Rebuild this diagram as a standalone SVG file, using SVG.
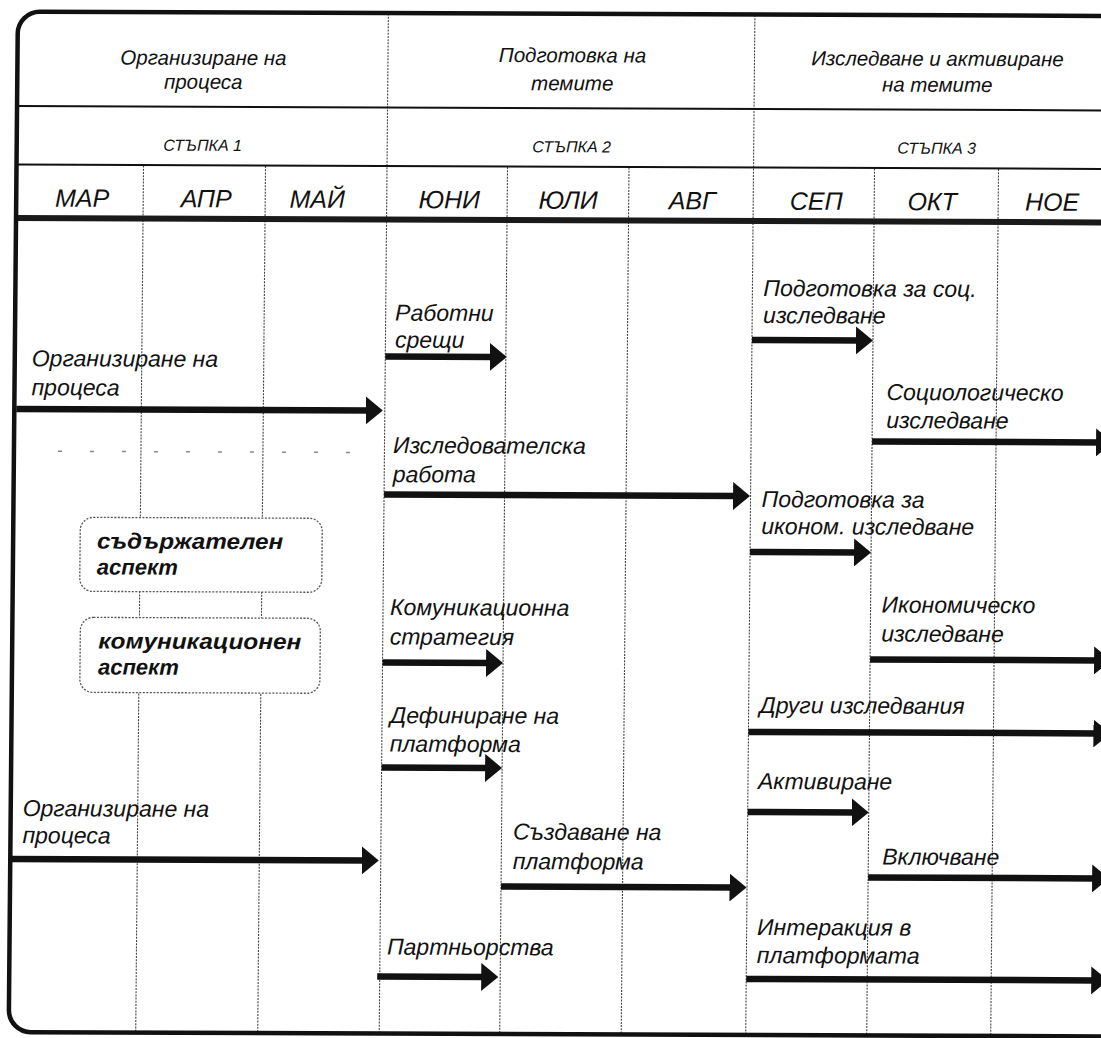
<svg xmlns="http://www.w3.org/2000/svg" width="1101" height="1038" viewBox="0 0 1101 1038">
<style>
text { font-family: "Liberation Sans", Arial, sans-serif; font-style: italic; fill: #111; }
.ph { font-size: 20.5px; text-anchor: middle; }
.st { font-size: 16px; text-anchor: middle; }
.mo { font-size: 25px; text-anchor: middle; }
.lb { font-size: 23px; }
.bx { font-size: 22px; font-weight: bold; }
.grid { stroke: #444; stroke-width: 1.1; stroke-dasharray: 2 1.2; fill: none; }
.rule { stroke: #111; stroke-width: 2; fill: none; }
.thick { stroke: #1a1a1a; stroke-width: 6; fill: none; }
.faint { stroke: #888; stroke-width: 1.5; stroke-dasharray: 4 28; fill: none; }
.frame { fill: none; stroke: #111; stroke-width: 4.5; }
.arr { stroke: #111; stroke-width: 6.5; fill: none; marker-end: url(#ah); }
.box { fill: #fff; stroke: #555; stroke-width: 1.3; stroke-dasharray: 2 1.5; }
</style>
<defs>
<marker id="ah" markerUnits="userSpaceOnUse" viewBox="0 0 17 28" refX="5" refY="14" markerWidth="17" markerHeight="28" orient="auto">
<path d="M0,0 L17,14 L0,28 Z" fill="#111"/>
</marker>
</defs>
<rect width="1101" height="1038" fill="#fff"/>
<g transform="matrix(1,0.004,-0.009,1,0,0)">
<g id="grid">
<path class="grid" d="M388.5,12 V1031 M755,12 V1031 M145,165 V1031 M267,165 V1031 M509,165 V1031 M630.5,165 V1031 M876,165 V1031 M1000,165 V1031"/>
<path class="rule" d="M18,106 H1140 M18,164.5 H1140"/>
<path class="thick" d="M18,218 H1140"/>
<path class="faint" d="M62,451 H369"/>
</g>
<g id="frame">
<path class="frame" d="M1140,11.5 H40 A22,22 0 0 0 18,33.5 V1010 A22,22 0 0 0 40,1032 H1140"/>
</g>
<g id="header">
<g id="phase1"><text class="ph" x="204" y="64">Организиране на</text><text class="ph" x="204" y="88">процеса</text></g>
<g id="phase2"><text class="ph" x="573" y="60">Подготовка на</text><text class="ph" x="573" y="88">темите</text></g>
<g id="phase3"><text class="ph" x="938" y="62">Изследване и активиране</text><text class="ph" x="938" y="88">на темите</text></g>
<g id="step1"><text class="st" x="204" y="150">СТЪПКА 1</text></g>
<g id="step2"><text class="st" x="573" y="150">СТЪПКА 2</text></g>
<g id="step3"><text class="st" x="938" y="150">СТЪПКА 3</text></g>
<g id="months">
<text class="mo" x="84" y="206.5">МАР</text>
<text class="mo" x="208" y="206.5">АПР</text>
<text class="mo" x="319" y="206.5">МАЙ</text>
<text class="mo" x="451" y="206.5">ЮНИ</text>
<text class="mo" x="570" y="206.5">ЮЛИ</text>
<text class="mo" x="694" y="206.5">АВГ</text>
<text class="mo" x="818" y="206.5">СЕП</text>
<text class="mo" x="934" y="206.5">ОКТ</text>
<text class="mo" x="1054" y="206.5">НОЕ</text>
</g>
</g>
<g id="box-content">
<rect class="box" x="85" y="517" width="242" height="74" rx="13"/>
<text class="bx" x="102" y="548" textLength="186" lengthAdjust="spacingAndGlyphs">съдържателен</text>
<text class="bx" x="102" y="574">аспект</text>
</g>
<g id="box-communication">
<rect class="box" x="86" y="617" width="240" height="75" rx="13"/>
<text class="bx" x="104" y="648" textLength="203" lengthAdjust="spacingAndGlyphs">комуникационен</text>
<text class="bx" x="104" y="674">аспект</text>
</g>
<g id="t-org1"><text class="lb" x="35" y="366">Организиране на</text><text class="lb" x="35" y="395">процеса</text></g>
<g id="t-meet"><text class="lb" x="398" y="319">Работни</text><text class="lb" x="398" y="346">срещи</text></g>
<g id="t-research"><text class="lb" x="397" y="451.5">Изследователска</text><text class="lb" x="397" y="480.5">работа</text></g>
<g id="t-socprep"><text class="lb" x="766" y="293">Подготовка за соц.</text><text class="lb" x="766" y="320">изследване</text></g>
<g id="t-soc"><text class="lb" x="890" y="396.5">Социологическо</text><text class="lb" x="890" y="424.5">изследване</text></g>
<g id="t-ecoprep"><text class="lb" x="766" y="504">Подготовка за</text><text class="lb" x="766" y="531">иконом. изследване</text></g>
<g id="t-eco"><text class="lb" x="887" y="609">Икономическо</text><text class="lb" x="887" y="638">изследване</text></g>
<g id="t-other"><text class="lb" x="766" y="710">Други изследвания</text></g>
<g id="t-activ"><text class="lb" x="765" y="786">Активиране</text></g>
<g id="t-incl"><text class="lb" x="890" y="861">Включване</text></g>
<g id="t-inter"><text class="lb" x="765.5" y="932">Интеракция в</text><text class="lb" x="765.5" y="960">платформата</text></g>
<g id="t-comm"><text class="lb" x="395.5" y="613.5">Комуникационна</text><text class="lb" x="395.5" y="643">стратегия</text></g>
<g id="t-def"><text class="lb" x="396.5" y="721.5">Дефиниране на</text><text class="lb" x="396.5" y="750">платформа</text></g>
<g id="t-org2"><text class="lb" x="30" y="816">Организиране на</text><text class="lb" x="30" y="843">процеса</text></g>
<g id="t-create"><text class="lb" x="520.5" y="837.5">Създаване на</text><text class="lb" x="520.5" y="867">платформа</text></g>
<g id="t-partner"><text class="lb" x="395.5" y="953">Партньорства</text></g>
<g id="connectors">
<path class="arr" d="M20,409 H374.5"/>
<path class="arr" d="M388.5,355 H498"/>
<path class="arr" d="M388.5,493 H742.5"/>
<path class="arr" d="M755,337 H864"/>
<path class="arr" d="M876,438 H1105"/>
<path class="arr" d="M755,549 H864"/>
<path class="arr" d="M876,656 H1105"/>
<path class="arr" d="M755,729 H1105"/>
<path class="arr" d="M755,809 H864"/>
<path class="arr" d="M876,874 H1105"/>
<path class="arr" d="M755,976 H1105"/>
<path class="arr" d="M388.5,661 H497"/>
<path class="arr" d="M388.5,766 H497"/>
<path class="arr" d="M18,859 H374.5"/>
<path class="arr" d="M509,884.5 H742.5"/>
<path class="arr" d="M386,975 H495"/>
</g>
</g>
</svg>
